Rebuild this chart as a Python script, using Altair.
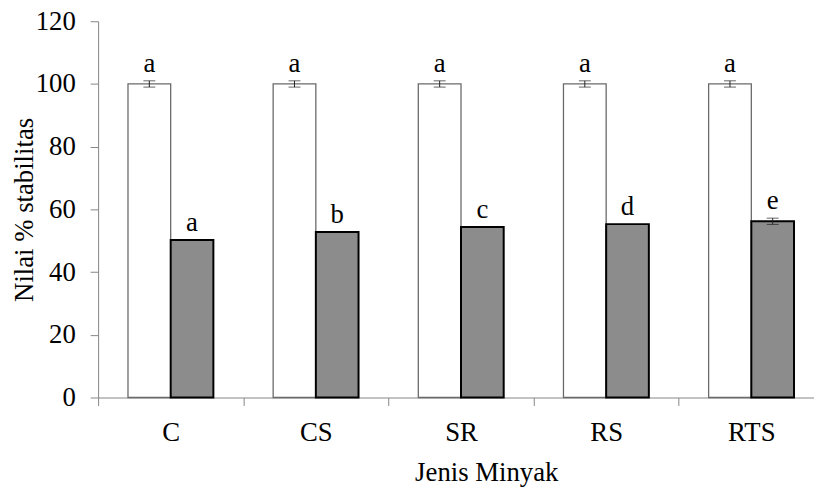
import altair as alt
import pandas as pd

categories = ["C", "CS", "SR", "RS", "RTS"]
series = ["kontrol", "perlakuan"]
control_values = [100, 100, 100, 100, 100]
control_errors = [1.0, 1.0, 1.0, 1.0, 1.0]
control_letters = ["a", "a", "a", "a", "a"]
treated_values = [50.2, 52.8, 54.4, 55.3, 56.2]
treated_errors = [0.0, 0.0, 0.0, 0.0, 1.0]
treated_letters = ["a", "b", "c", "d", "e"]
y_ticks = [0, 20, 40, 60, 80, 100, 120]

rows = []
for i, c in enumerate(categories):
    rows.append({"cat": c, "series": series[0], "value": control_values[i],
                 "err": control_errors[i], "letter": control_letters[i]})
    rows.append({"cat": c, "series": series[1], "value": treated_values[i],
                 "err": treated_errors[i], "letter": treated_letters[i]})
df = pd.DataFrame(rows)

FONT = "Liberation Serif"

x_enc = alt.X(
    "cat:N", sort=categories,
    scale=alt.Scale(domain=categories, range=[0, 733], paddingInner=0, paddingOuter=0),
    axis=alt.Axis(title="Jenis Minyak", labelAngle=0, tickBand="extent",
                  labelPadding=14, titleX=392, titleY=84, titleAlign="center",
                  titleBaseline="alphabetic", titleAnchor="start"),
)
xoff = alt.XOffset("series:N", sort=series,
                   scale=alt.Scale(domain=series, paddingInner=0, paddingOuter=0.70))
y_enc = alt.Y(
    "value:Q", scale=alt.Scale(domain=[0, 120], nice=False),
    axis=alt.Axis(values=y_ticks, title="Nilai % stabilitas", labelPadding=15,
                  titleX=-66, titleY=190, titleAngle=270, titleAlign="center",
                  titleBaseline="alphabetic", titleAnchor="start"),
)

base = alt.Chart(df).transform_calculate(
    hi="datum.value + datum.err", lo="datum.value - datum.err"
)

bars = base.mark_bar().encode(
    x=x_enc, xOffset=xoff, y=y_enc,
    fill=alt.Fill("series:N", scale=alt.Scale(domain=series, range=["#ffffff", "#8c8c8c"]), legend=None),
    stroke=alt.Stroke("series:N", scale=alt.Scale(domain=series, range=["#6a6a6a", "#000000"]), legend=None),
    strokeWidth=alt.StrokeWidth("series:N", scale=alt.Scale(domain=series, range=[1.3, 2.0]), legend=None),
)

eb = base.transform_filter("datum.err > 0")
rules = eb.mark_rule(color="#222222", strokeWidth=1).encode(
    x=x_enc, xOffset=xoff, y="lo:Q", y2="hi:Q"
)
caps_hi = eb.mark_tick(color="#222222", thickness=1, size=12).encode(
    x=x_enc, xOffset=xoff, y="hi:Q"
)
caps_lo = eb.mark_tick(color="#222222", thickness=1, size=12).encode(
    x=x_enc, xOffset=xoff, y="lo:Q"
)
labels = base.mark_text(dy=-9, baseline="alphabetic", align="center",
                        fontSize=27, font=FONT, color="black").encode(
    x=x_enc, xOffset=xoff, y="hi:Q", text="letter:N"
)

chart = alt.layer(bars, rules, caps_hi, caps_lo, labels).properties(
    width=723, height=380,
    autosize=alt.AutoSizeParams(type="none"),
    padding={"left": 91, "top": 11, "right": 0, "bottom": 88},
).configure_view(stroke=None).configure_axis(
    domainColor="#868686", tickColor="#868686", tickSize=8, grid=False,
    labelFont=FONT, titleFont=FONT, labelFontSize=27, titleFontSize=27,
    labelColor="black", titleColor="black", titleFontWeight="normal",
)

chart.save("out.html", embed_options={"renderer": "svg", "actions": False})
